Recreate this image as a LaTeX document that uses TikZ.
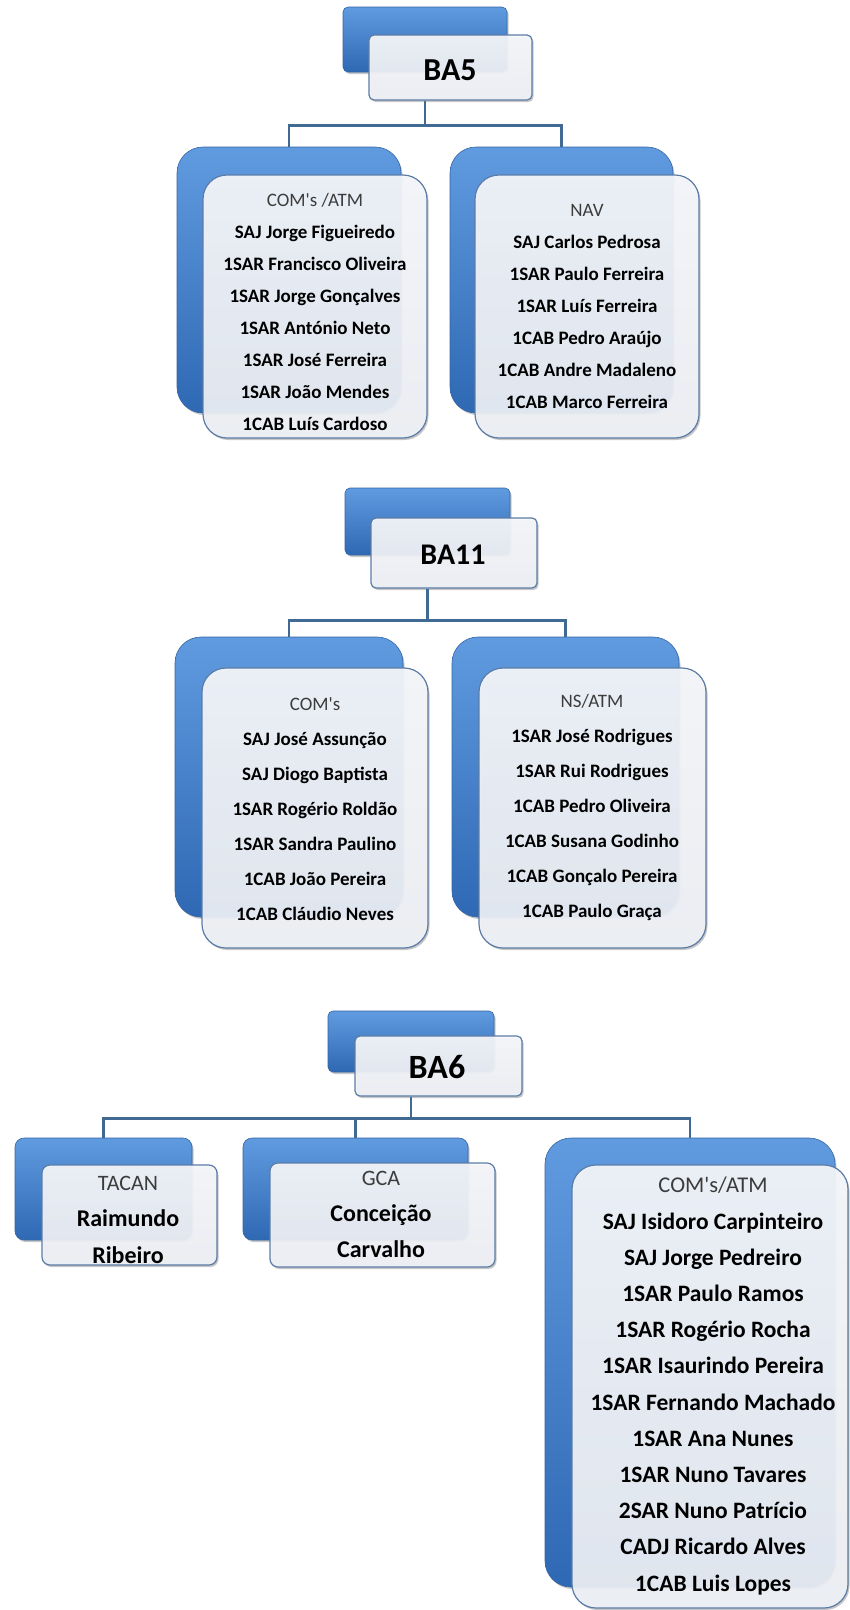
\documentclass[tikz,border=0pt]{standalone}
\usepackage{fontspec}
\setmainfont{Carlito}
\usetikzlibrary{shadows}

\definecolor{blueTop}{HTML}{609BE0}
\definecolor{blueBot}{HTML}{2F68B3}
\definecolor{blueEdge}{HTML}{3565A5}
\definecolor{paneTop}{HTML}{F7F8FB}
\definecolor{paneBot}{HTML}{EEF1F6}
\definecolor{paneEdge}{HTML}{5B7CA6}
\definecolor{linkBlue}{HTML}{416A93}
\definecolor{headGray}{HTML}{3C3C3C}

\newcommand\hdfont{\mdseries\color{headGray}}

\tikzset{
  softshadow/.style={drop shadow={shadow xshift=1.5pt, shadow yshift=-2pt, opacity=0.22, fill=black}},
  bluebase/.style={draw=blueEdge, line width=0.6pt, top color=blueTop, bottom color=blueBot, inner sep=0pt, softshadow},
  topblue/.style={bluebase, rounded corners=5pt},
  bigblue/.style={bluebase, rounded corners=26pt},
  smallblue/.style={bluebase, rounded corners=9pt},
  panebase/.style={draw=paneEdge, line width=1.2pt, top color=paneTop, bottom color=paneBot, fill opacity=0.93, inner sep=0pt, softshadow},
  toppane/.style={panebase, rounded corners=5pt},
  bigpane/.style={panebase, rounded corners=24pt},
  smallpane/.style={panebase, rounded corners=8pt},
  link/.style={draw=linkBlue, line width=2.8pt},
  toplabel/.style={inner sep=0pt, text=black, font=\bfseries},
  listtext/.style={inner sep=0pt, align=center, text=black},
}

\begin{document}
\begin{tikzpicture}[x=1pt,y=-1pt]
\useasboundingbox (0,0) rectangle (850,1610);
\fill[white] (0,0) rectangle (850,1610);

% ---------------- BA5 ----------------
\node[topblue, minimum width=164pt, minimum height=65pt] (b5) at (425,39.5) {};
\node[toppane, minimum width=163pt, minimum height=65pt] (w5) at (450.5,67.5) {};
\node[toplabel, font=\fontsize{32}{36}\selectfont\bfseries] (t5) at (450,70) {BA5};

\node[bigblue, minimum width=224pt, minimum height=266pt] (b5L) at (289,280) {};
\node[bigpane, minimum width=224pt, minimum height=263pt] (w5L) at (315,306.5) {};
\node[bigblue, minimum width=223pt, minimum height=266pt] (b5R) at (561.5,280) {};
\node[bigpane, minimum width=224pt, minimum height=263pt] (w5R) at (587,306.5) {};

\draw[link] (b5.center |- w5.south) -- ++(0,25) -| (b5L.north);
\draw[link] (b5.center |- w5.south) -- ++(0,25) -| (b5R.north);

\node[listtext, font=\fontsize{19}{32}\selectfont\bfseries] (t5L) at (315,311.5)
  {{\hdfont COM\textquotesingle s /ATM}\\SAJ Jorge Figueiredo\\1SAR Francisco Oliveira\\1SAR Jorge Gonçalves\\1SAR António Neto\\1SAR José Ferreira\\1SAR João Mendes\\1CAB Luís Cardoso};
\node[listtext, font=\fontsize{19}{32}\selectfont\bfseries] (t5R) at (587,306)
  {{\hdfont NAV}\\SAJ Carlos Pedrosa\\1SAR Paulo Ferreira\\1SAR Luís Ferreira\\1CAB Pedro Araújo\\1CAB Andre Madaleno\\1CAB Marco Ferreira};

% ---------------- BA11 ----------------
\node[topblue, minimum width=165pt, minimum height=67pt] (b11) at (427.5,521.5) {};
\node[toppane, minimum width=166pt, minimum height=70pt] (w11) at (454,553) {};
\node[toplabel, font=\fontsize{30}{34}\selectfont\bfseries] (t11) at (453,555) {BA11};

\node[bigblue, minimum width=228pt, minimum height=280pt] (b11L) at (289,777) {};
\node[bigpane, minimum width=226pt, minimum height=280pt] (w11L) at (315,808) {};
\node[bigblue, minimum width=227pt, minimum height=280pt] (b11R) at (565.5,777) {};
\node[bigpane, minimum width=227pt, minimum height=280pt] (w11R) at (592.5,808) {};

\draw[link] (b11.center |- w11.south) -- ++(0,32) -| (b11L.north);
\draw[link] (b11.center |- w11.south) -- ++(0,32) -| (b11R.north);

\node[listtext, font=\fontsize{19}{35}\selectfont\bfseries] (t11L) at (315,809)
  {{\hdfont COM\textquotesingle s}\\SAJ José Assunção\\SAJ Diogo Baptista\\1SAR Rogério Roldão\\1SAR Sandra Paulino\\1CAB João Pereira\\1CAB Cláudio Neves};
\node[listtext, font=\fontsize{19}{35}\selectfont\bfseries] (t11R) at (592,807.5)
  {{\hdfont NS/ATM}\\1SAR José Rodrigues\\1SAR Rui Rodrigues\\1CAB Pedro Oliveira\\1CAB Susana Godinho\\1CAB Gonçalo Pereira\\1CAB Paulo Graça};

% ---------------- BA6 ----------------
\node[topblue, minimum width=166pt, minimum height=61pt] (b6) at (411,1041.5) {};
\node[toppane, minimum width=167pt, minimum height=60pt] (w6) at (438.5,1066) {};
\node[toplabel, font=\fontsize{34}{38}\selectfont\bfseries] (t6) at (437,1067) {BA6};

\node[smallblue, minimum width=177pt, minimum height=102pt] (b6L) at (103.5,1189) {};
\node[smallpane, minimum width=175pt, minimum height=100pt] (w6L) at (129.5,1215) {};
\node[smallblue, minimum width=225pt, minimum height=102pt] (b6M) at (355.5,1189) {};
\node[smallpane, minimum width=225pt, minimum height=104pt] (w6M) at (382.5,1215) {};
\node[bigblue, minimum width=290pt, minimum height=449pt] (b6R) at (690,1362.5) {};
\node[bigpane, minimum width=276pt, minimum height=443pt] (w6R) at (710,1386.5) {};

\draw[link] (b6.center |- w6.south) -- ++(0,22) -| (b6L.north);
\draw[link] (b6.center |- w6.south) -- ++(0,22) -| (b6M.north);
\draw[link] (b6.center |- w6.south) -- ++(0,22) -| (b6R.north);

\node[listtext, font=\fontsize{24}{36.5}\selectfont\bfseries] (t6L) at (128,1219.5)
  {{\hdfont\fontsize{22}{36.5}\selectfont TACAN}\\Raimundo\\Ribeiro};
\node[listtext, font=\fontsize{24}{36}\selectfont\bfseries] (t6M) at (381,1214)
  {{\hdfont\fontsize{22}{36}\selectfont GCA}\\Conceição\\Carvalho};
\node[listtext, font=\fontsize{23.5}{36.2}\selectfont\bfseries] (t6R) at (713,1386)
  {{\hdfont\fontsize{22.5}{36.2}\selectfont COM\textquotesingle s/ATM}\\SAJ Isidoro Carpinteiro\\SAJ Jorge Pedreiro\\1SAR Paulo Ramos\\1SAR Rogério Rocha\\1SAR Isaurindo Pereira\\1SAR Fernando Machado\\1SAR Ana Nunes\\1SAR Nuno Tavares\\2SAR Nuno Patrício\\CADJ Ricardo Alves\\1CAB Luis Lopes};
\end{tikzpicture}
\end{document}
